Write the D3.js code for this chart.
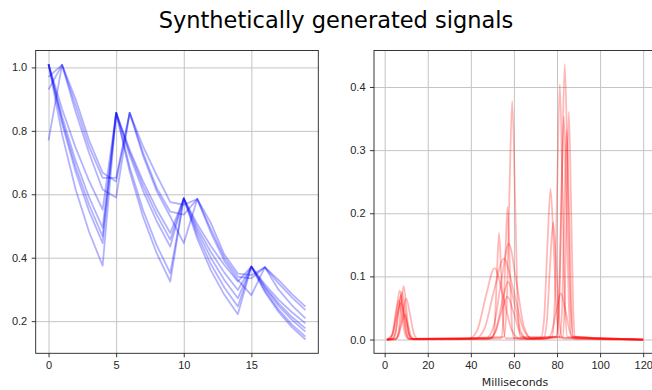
<!DOCTYPE html>
<html>
<head>
<meta charset="utf-8">
<script src="https://cdn.jsdelivr.net/npm/d3@7"></script>
<style>
  body { margin: 0; background: #fff; }
  svg { display: block; font-family: "DejaVu Sans", sans-serif; }
  .grid line { stroke: #c4c4c4; stroke-width: 1; }
  .grid path { display: none; }
  .axis path { display: none; }
  .axis line { stroke: #222; stroke-width: 0.9; }
  .axis text { font-size: 11px; fill: #262626; }
</style>
</head>
<body>
<svg id="chart" width="652" height="390"></svg>
<script>
// left panel: sample index 0..19, eight blue signals
const steps = d3.range(20);
const blueSignals = [
  [1.01, 0.869, 0.747, 0.642, 0.552, 0.857, 0.740, 0.640, 0.553, 0.478, 0.587, 0.506, 0.437, 0.377, 0.325, 0.372, 0.316, 0.268, 0.228, 0.193],
  [1.01, 0.845, 0.706, 0.590, 0.494, 0.857, 0.733, 0.626, 0.535, 0.457, 0.587, 0.495, 0.418, 0.353, 0.298, 0.372, 0.309, 0.257, 0.213, 0.177],
  [1.01, 0.833, 0.687, 0.567, 0.467, 0.857, 0.723, 0.610, 0.515, 0.435, 0.587, 0.484, 0.400, 0.330, 0.272, 0.372, 0.305, 0.249, 0.204, 0.167],
  [1.01, 0.823, 0.671, 0.547, 0.446, 0.857, 0.686, 0.549, 0.439, 0.351, 0.587, 0.472, 0.380, 0.306, 0.246, 0.372, 0.297, 0.237, 0.189, 0.151],
  [1.01, 0.789, 0.616, 0.481, 0.375, 0.857, 0.672, 0.528, 0.414, 0.325, 0.587, 0.460, 0.361, 0.283, 0.222, 0.372, 0.292, 0.230, 0.181, 0.142],
  [0.97, 1.008, 0.900, 0.770, 0.668, 0.640, 0.857, 0.750, 0.660, 0.575, 0.567, 0.585, 0.510, 0.410, 0.350, 0.345, 0.370, 0.330, 0.285, 0.246],
  [0.93, 1.008, 0.860, 0.730, 0.615, 0.590, 0.857, 0.730, 0.620, 0.545, 0.536, 0.585, 0.490, 0.400, 0.340, 0.335, 0.370, 0.320, 0.275, 0.235],
  [0.77, 1.008, 0.880, 0.750, 0.652, 0.652, 0.857, 0.720, 0.610, 0.530, 0.446, 0.585, 0.480, 0.390, 0.330, 0.282, 0.370, 0.300, 0.250, 0.209]
];
const leftXTicks = [0, 5, 10, 15];
const leftYTicks = [0.2, 0.4, 0.6, 0.8, 1.0];

// right panel: [milliseconds, value] points
const redSignals = [
  [[1,0],[2.5,0.001],[4,0.011],[5.5,0.047],[7,0.078],[8.5,0.047],[10,0.011],[11.5,0.001],
   [39,0.001],[43,0.015],[47,0.069],[51,0.113],[55,0.069],[59,0.015],[63,0.001],
   [72.5,0.003],[74,0.032],[75.5,0.145],[77,0.239],[78.5,0.145],[80,0.032],[81.5,0.003],[120,0]],
  [[1,0],[5.2,0.001],[6.4,0.011],[7.6,0.052],[8.8,0.085],[10,0.052],[11.2,0.011],[12.4,0.001],
   [41.8,0.001],[46.3,0.017],[50.8,0.078],[55.3,0.128],[59.8,0.078],[64.3,0.017],[68.8,0.001],
   [79.7,0.005],[81,0.059],[82.3,0.265],[83.6,0.436],[84.9,0.265],[86.2,0.059],[87.5,0.005],[120,0]],
  [[1,0],[4.6,0.001],[6.4,0.009],[8.2,0.039],[10,0.065],[11.8,0.039],[13.6,0.009],[15.4,0.001],
   [47.1,0.002],[50.6,0.021],[54.1,0.092],[57.6,0.152],[61.1,0.092],[64.6,0.021],[68.1,0.002],
   [77.7,0.004],[78.9,0.055],[80.1,0.245],[81.3,0.404],[82.5,0.245],[83.7,0.055],[84.9,0.004],[120,0]],
  [[1,0],[4.8,0],[6.3,0.005],[7.8,0.024],[9.3,0.04],[10.8,0.024],[12.3,0.005],[13.8,0],
   [48.3,0.001],[51.3,0.012],[54.3,0.056],[57.3,0.0915],[60.3,0.056],[63.3,0.012],[66.3,0.001],
   [82.5,0.004],[83.5,0.049],[84.5,0.219],[85.5,0.361],[86.5,0.219],[87.5,0.049],[88.5,0.004],[120,0]],
  [[1,0],[3.6,0.001],[4.9,0.009],[6.2,0.042],[7.5,0.07],[8.8,0.042],[10.1,0.009],[11.4,0.001],
   [48,0.001],[51,0.009],[54,0.041],[57,0.068],[60,0.041],[63,0.009],[66,0.001],
   [79.6,0.004],[80.8,0.048],[82,0.214],[83.2,0.353],[84.4,0.214],[85.6,0.048],[86.8,0.004],[120,0]],
  [[1,0],[2,0.001],[3.5,0.008],[5,0.038],[6.5,0.062],[8,0.038],[9.5,0.008],[11,0.001],
   [50.1,0.002],[51.1,0.023],[52.1,0.103],[53.1,0.169],[54.1,0.103],[55.1,0.023],[56.1,0.002],
   [73.7,0.002],[75.2,0.025],[76.7,0.113],[78.2,0.186],[79.7,0.113],[81.2,0.025],[82.7,0.002],[120,0]],
  [[1,0],[3.5,0.001],[5,0.01],[6.5,0.046],[8,0.075],[9.5,0.046],[11,0.01],[12.5,0.001],
   [54,0.002],[55,0.028],[56,0.127],[57,0.21],[58,0.127],[59,0.028],[60,0.002],
   [75.2,0.001],[77.4,0.01],[79.6,0.044],[81.8,0.073],[84,0.044],[86.2,0.01],[88.4,0.001],[120,0]],
  [[1,0],[1.5,0.001],[3.5,0.008],[5.5,0.035],[7.5,0.058],[9.5,0.035],[11.5,0.008],[13.5,0.001],
   [55.3,0.004],[56.6,0.051],[57.9,0.229],[59.2,0.378],[60.5,0.229],[61.8,0.051],[63.1,0.004],
   [81.2,0.004],[82.3,0.045],[83.4,0.2],[84.5,0.33],[85.6,0.2],[86.7,0.045],[87.8,0.004],[120,0]]
];
const rightXTicks = [0, 20, 40, 60, 80, 100, 120];
const rightYTicks = [0.0, 0.1, 0.2, 0.3, 0.4];

const svg = d3.select('#chart');
const plotTop = 50.5, plotBottom = 353.3;

svg.append('text')
  .attr('x', 336).attr('y', 27.5)
  .attr('text-anchor', 'middle')
  .attr('font-size', '22.5px')
  .attr('fill', '#000')
  .text('Synthetically generated signals');

// matplotlib style 5% padding around the data range
function padded(lo, hi) {
  const m = (hi - lo) * 0.05;
  return [lo - m, hi + m];
}

function panel(left, right, xDomain, yDomain, xTicks, yTicks) {
  const x = d3.scaleLinear().domain(xDomain).range([left, right]);
  const y = d3.scaleLinear().domain(yDomain).range([plotBottom, plotTop]);
  const g = svg.append('g');
  g.append('g').attr('class', 'grid')
    .attr('transform', 'translate(0,' + plotBottom + ')')
    .call(d3.axisBottom(x).tickValues(xTicks).tickSize(-(plotBottom - plotTop)).tickFormat(''));
  g.append('g').attr('class', 'grid')
    .attr('transform', 'translate(' + left + ',0)')
    .call(d3.axisLeft(y).tickValues(yTicks).tickSize(-(right - left)).tickFormat(''));
  const marks = g.append('g');
  g.append('g').attr('class', 'axis')
    .attr('transform', 'translate(0,' + plotBottom + ')')
    .call(d3.axisBottom(x).tickValues(xTicks).tickSize(4).tickPadding(3.5).tickFormat(d3.format('d')));
  g.append('g').attr('class', 'axis')
    .attr('transform', 'translate(' + left + ',0)')
    .call(d3.axisLeft(y).tickValues(yTicks).tickSize(4).tickPadding(4.5).tickFormat(d3.format('.1f')));
  g.append('rect')
    .attr('x', left).attr('y', plotTop)
    .attr('width', right - left).attr('height', plotBottom - plotTop)
    .attr('fill', 'none').attr('stroke', '#222').attr('stroke-width', 0.9);
  return { x, y, marks };
}

const allBlue = blueSignals.flat();
const L = panel(35.7, 318.3, padded(0, 19), padded(d3.min(allBlue), d3.max(allBlue)), leftXTicks, leftYTicks);
const blueLine = d3.line().x((d, i) => L.x(steps[i])).y(d => L.y(d));
L.marks.selectAll('path').data(blueSignals).enter().append('path')
  .attr('d', blueLine)
  .attr('fill', 'none')
  .attr('stroke', '#0000ff')
  .attr('stroke-opacity', 0.3)
  .attr('stroke-width', 1.8)
  .attr('stroke-linejoin', 'round');

const allRed = redSignals.flat().map(d => d[1]);
const R = panel(374, 656, padded(1, 120), padded(d3.min(allRed), d3.max(allRed)), rightXTicks, rightYTicks);
const redLine = d3.line().curve(d3.curveMonotoneX).x(d => R.x(d[0])).y(d => R.y(d[1]));
R.marks.selectAll('path').data(redSignals).enter().append('path')
  .attr('d', redLine)
  .attr('fill', 'none')
  .attr('stroke', '#ff0000')
  .attr('stroke-opacity', 0.28)
  .attr('stroke-width', 1.8);

svg.append('text')
  .attr('x', 515).attr('y', 386)
  .attr('text-anchor', 'middle')
  .attr('font-size', '11px')
  .attr('fill', '#262626')
  .text('Milliseconds');
</script>
</body>
</html>
